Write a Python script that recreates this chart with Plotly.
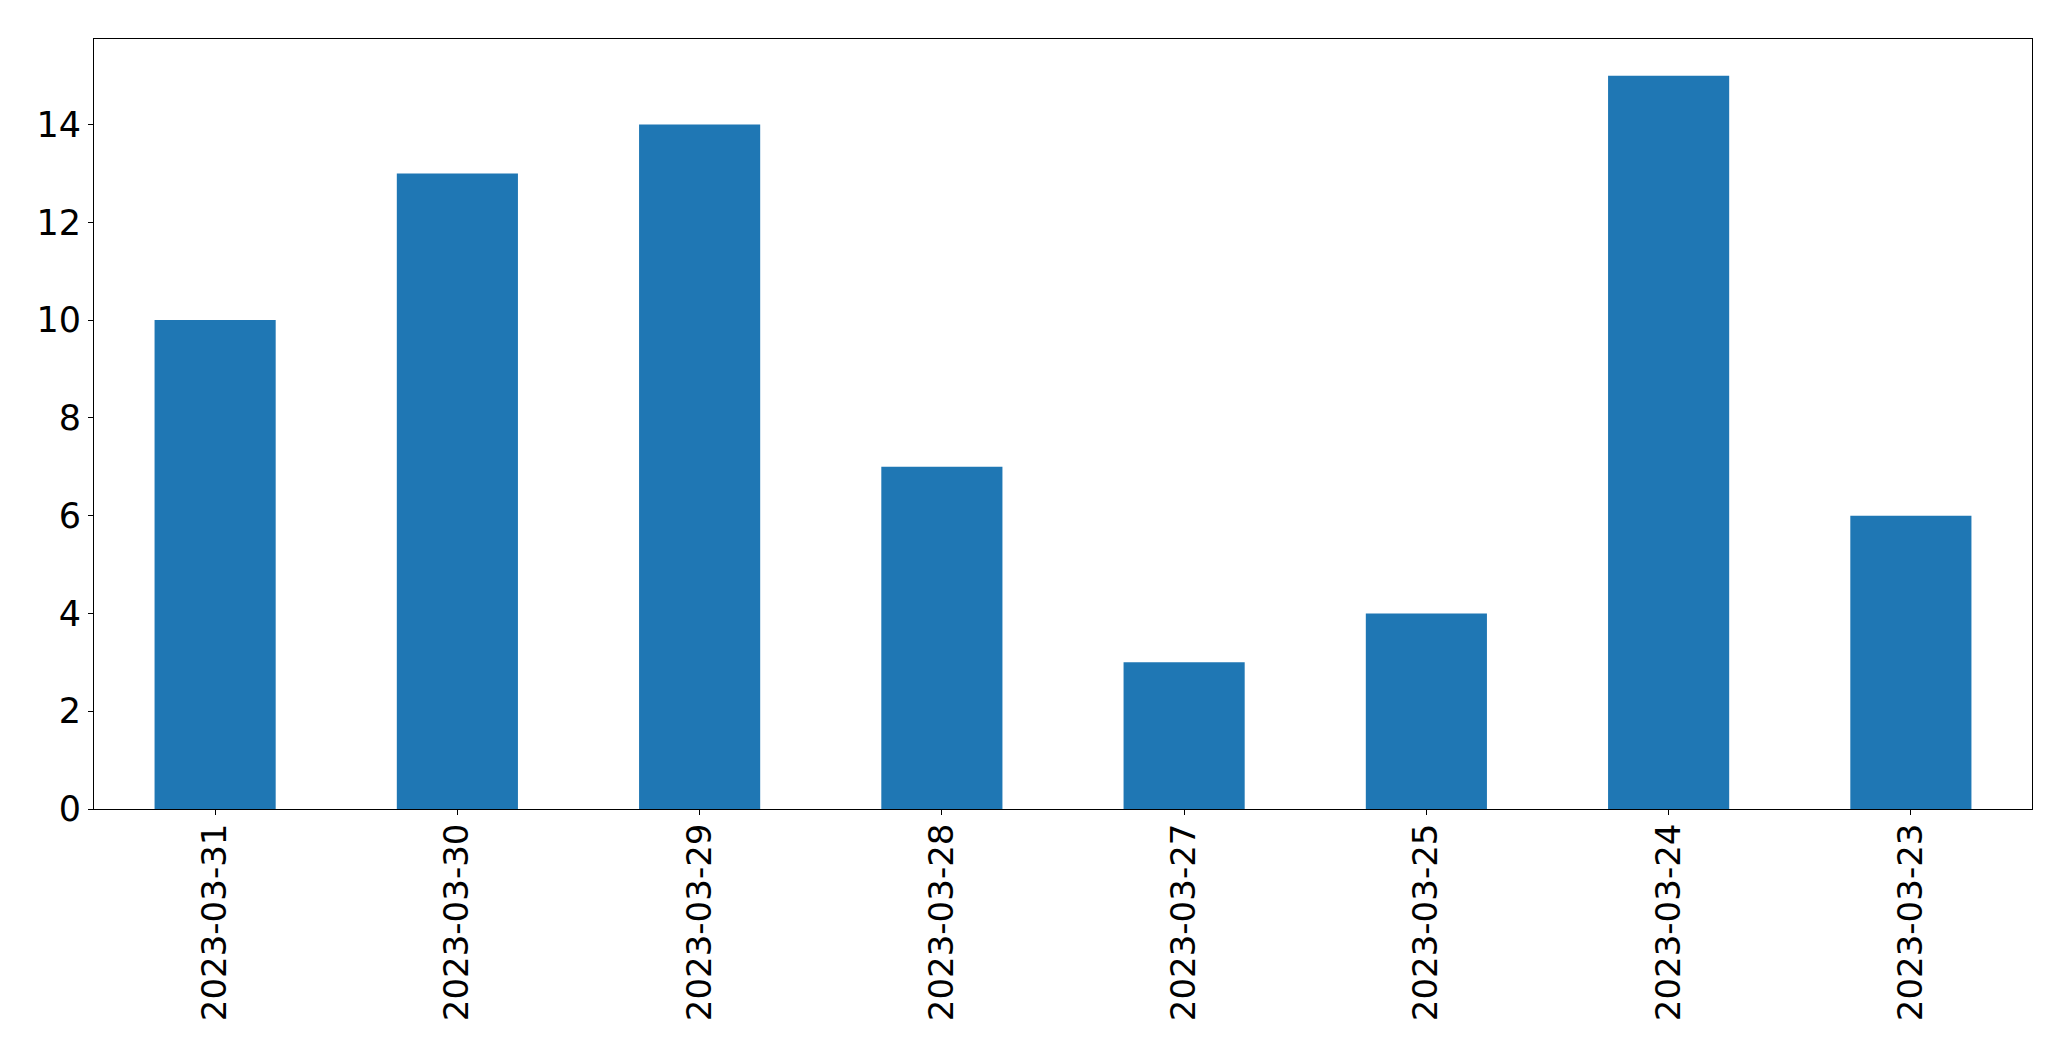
import plotly.graph_objects as go

dates = ["2023-03-31", "2023-03-30", "2023-03-29", "2023-03-28",
         "2023-03-27", "2023-03-25", "2023-03-24", "2023-03-23"]
counts = [10, 13, 14, 7, 3, 4, 15, 6]
y_ticks = [0, 2, 4, 6, 8, 10, 12, 14]

fig = go.Figure(go.Bar(x=dates, y=counts, marker=dict(color="#1f77b4", line=dict(width=0))))

# page body has an 8px default margin, so the figure is shifted by 8px
fig.update_layout(
    width=2063, height=1053,
    margin=dict(l=86, r=39, t=31, b=252, pad=0),
    plot_bgcolor="white", paper_bgcolor="white",
    font=dict(family="DejaVu Sans", size=34, color="black"),
    bargap=0.5, showlegend=False,
)
fig.update_xaxes(
    type="category", range=[-0.5, 7.5], tickangle=-90,
    showline=True, linecolor="black", linewidth=1, mirror=True,
    ticks="outside", ticklen=5, tickcolor="black", showgrid=False,
    tickfont=dict(size=34), ticklabelstandoff=-5,
)
fig.update_yaxes(
    range=[0, 15.75], tickvals=y_ticks, ticktext=[str(v) for v in y_ticks],
    showline=True, linecolor="black", linewidth=1, mirror=True,
    ticks="outside", ticklen=5, tickcolor="black", showgrid=False, zeroline=False,
    tickfont=dict(size=35),
)

fig.write_html("out.html")
